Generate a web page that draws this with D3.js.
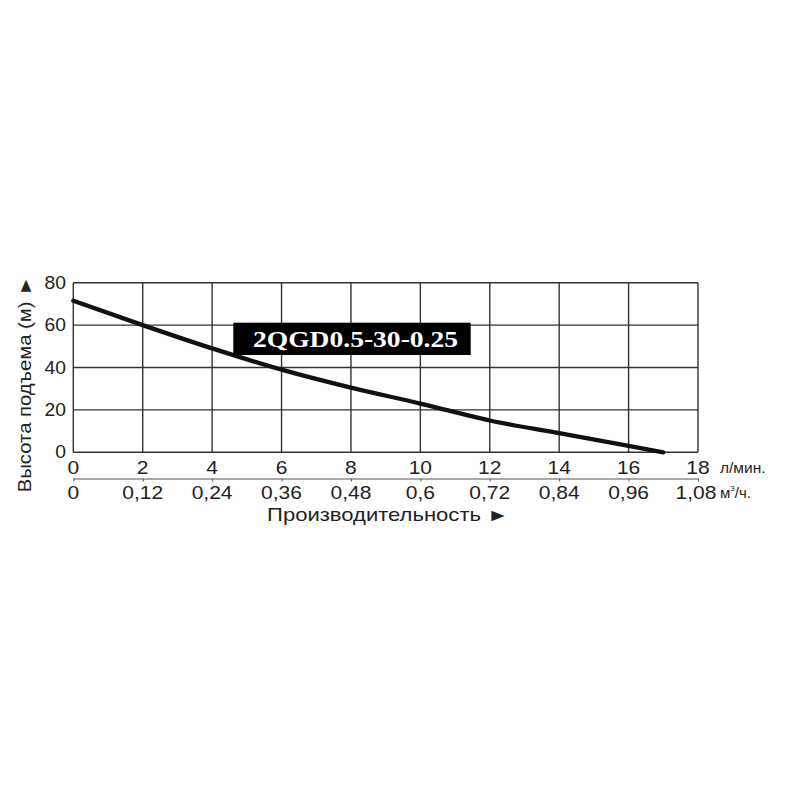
<!DOCTYPE html>
<html><head><meta charset="utf-8">
<script src="https://cdn.jsdelivr.net/npm/d3@7"></script>
<style>body{margin:0;background:#fff}svg{display:block}</style>
</head><body>
<script>
const flowLmin = [0, 2, 4, 6, 8, 10, 12, 14, 16, 17];
const headM = [71.5, 60, 49, 39, 30.5, 23, 15, 9, 3, 0];
const xTicks = [0, 2, 4, 6, 8, 10, 12, 14, 16, 18];
const xTicksM3 = ["0", "0,12", "0,24", "0,36", "0,48", "0,6", "0,72", "0,84", "0,96", "1,08"];
const yTicks = [0, 20, 40, 60, 80];
const modelLabel = "2QGD0.5-30-0.25";

const svg = d3.select("body").append("svg").attr("width", 800).attr("height", 800);
svg.append("rect").attr("width", 800).attr("height", 800).attr("fill", "#fff");

const x = d3.scaleLinear().domain([0, 18]).range([73.3, 698]);
const y = d3.scaleLinear().domain([0, 80]).range([452.3, 282.7]);
const font = "Liberation Sans, Arial, sans-serif";
const ink = "#222";
const SX = 1.2;

// grid
const g = svg.append("g");
g.selectAll(".vx").data(xTicks).join("line")
  .attr("x1", d => x(d)).attr("x2", d => x(d))
  .attr("y1", y(80)).attr("y2", y(0))
  .attr("stroke", "#333").attr("stroke-width", 1.4);
g.selectAll(".hy").data(yTicks).join("line")
  .attr("x1", x(0)).attr("x2", x(18))
  .attr("y1", d => y(d)).attr("y2", d => y(d))
  .attr("stroke", "#333").attr("stroke-width", 1.4);

function stext(px, py, anchor, size, sx, str) {
  return svg.append("text")
    .attr("transform", `translate(${px},${py}) scale(${sx},1)`)
    .attr("text-anchor", anchor).attr("font-family", font).attr("font-size", size)
    .attr("fill", ink).text(str);
}

// y tick labels
yTicks.forEach(d => stext(66, y(d) + 6, "end", 17.5, 1.1, d));

// x tick labels (l/min)
xTicks.forEach(d => stext(x(d), 474, "middle", 17.5, SX, d));

// secondary axis
const ax2 = d3.axisBottom(x).tickValues(xTicks).tickFormat("").tickSize(3).tickSizeOuter(0);
const axg = svg.append("g").attr("transform", "translate(0,478.5)").call(ax2);
axg.select(".domain").attr("stroke", "#555").attr("stroke-width", 1.2);
axg.selectAll(".tick line").attr("stroke", "#555");

xTicksM3.forEach((d, i) => stext(x(xTicks[i]) - (i === 9 ? 2 : 0), 498.5, "middle", 17.5, SX, d));

// units
stext(720, 473, "start", 15.5, 1.0, "л/мин.");
const m3 = svg.append("text").attr("transform", "translate(720,498)")
  .attr("font-family", font).attr("font-size", 15).attr("fill", ink);
m3.append("tspan").text("м");
m3.append("tspan").attr("font-size", 8).attr("dy", -7).text("3");
m3.append("tspan").attr("dy", 7).text("/ч.");

// axis titles
stext(388, 521, "middle", 17.5, 1.26, "Производительность ►");
svg.append("text").attr("transform", "translate(31,384) rotate(-90) scale(1.16,1)")
  .attr("text-anchor", "middle").attr("font-family", font).attr("font-size", 17.5)
  .attr("fill", ink).text("Высота подъема (м) ►");

// curve
const line = d3.line().x(d => x(d[0])).y(d => y(d[1])).curve(d3.curveMonotoneX);
svg.append("path").datum(flowLmin.map((f, i) => [f, headM[i]]))
  .attr("d", line).attr("fill", "none").attr("stroke", "#111")
  .attr("stroke-width", 4.3).attr("stroke-linecap", "round");

// label box
svg.append("rect").attr("x", 233.3).attr("y", 322.7).attr("width", 237.4).attr("height", 32.3)
  .attr("fill", "#000");
svg.append("text").attr("x", 253).attr("y", 346.5)
  .attr("font-family", "Liberation Serif, Times New Roman, serif").attr("font-weight", "bold")
  .attr("font-size", 23).attr("fill", "#fff")
  .attr("textLength", 205).attr("lengthAdjust", "spacingAndGlyphs")
  .text(modelLabel);
</script>
</body></html>
